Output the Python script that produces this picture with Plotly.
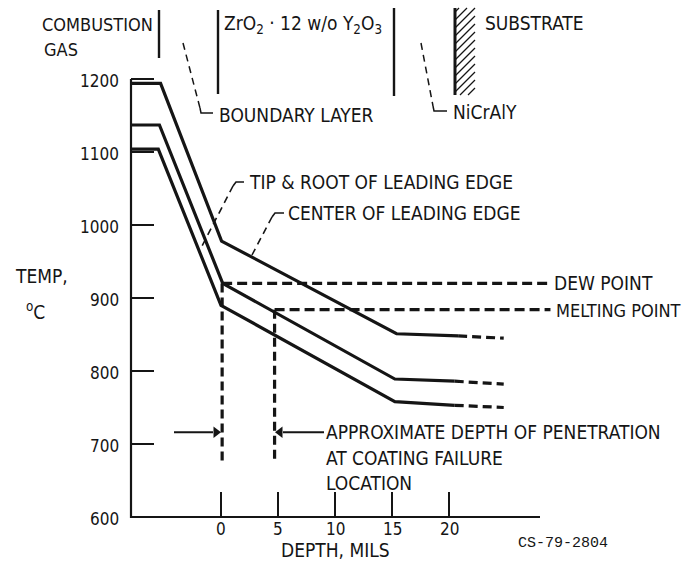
import plotly.graph_objects as go

# ---------------- data ----------------
# Temperature profiles through the coating (depth in mils, temperature in deg C)
center_depth = [-7.9, -5.3, 0.05, 15.4, 20.8]
center_temp = [1194, 1194, 978, 851, 848]
center_ext_depth = [20.8, 24.8]
center_ext_temp = [848, 845]

tip_hi_depth = [-7.9, -5.4, 0.15, 15.25, 20.5]
tip_hi_temp = [1137, 1137, 920, 789, 786]
tip_hi_ext_depth = [20.5, 24.8]
tip_hi_ext_temp = [786, 782]

tip_lo_depth = [-7.9, -5.5, 0.0, 15.25, 20.5]
tip_lo_temp = [1104, 1104, 890, 758, 753]
tip_lo_ext_depth = [20.5, 24.8]
tip_lo_ext_temp = [753, 750]

dew_point_temp = 920
dew_point_depth = [0.1, 28.9]
melting_point_temp = 884
melting_point_depth = [4.7, 28.9]
penetration_depths = [0.1, 4.7]
penetration_bottom = 674
arrow_temp = 716

ytick_vals = [600, 700, 800, 900, 1000, 1100, 1200]
ytick_text = ["600", "700", "800", "900", "1000", "1100", "1200"]
xtick_vals = [0, 5, 10, 15, 20]
xtick_text = ["0", "5", "10", "15", "20"]

# ---------------- scale helpers (pixel -> data) ----------------
W, H = 690, 563
X0, SX = 221.0, 11.4   # pixel of depth 0, pixels per mil
Y0, SY = 517.0, 0.73   # pixel of 600 C, pixels per deg C


def dx(px):
    return (px - X0) / SX


def ty(py):
    return 600 + (Y0 - py) / SY


FONT = "DejaVu Sans Condensed, DejaVu Sans, sans-serif"
INK = "#151515"

fig = go.Figure()


def line(xs, ys, width=3.0, dash=None, color=INK):
    fig.add_trace(go.Scatter(
        x=xs, y=ys, mode="lines", hoverinfo="skip", showlegend=False,
        line=dict(color=color, width=width, dash=dash)))


# axes
x_left = dx(131)
x_right = dx(540)
line([x_left, x_left, x_right], [1200, 600, 600], width=2.2)
for v in ytick_vals[1:]:
    line([x_left, dx(154)], [v, v], width=2.0)
for v in xtick_vals:
    line([v, v], [600, ty(492)], width=2.0)

# profiles
line(center_depth, center_temp, width=3.2)
line(center_ext_depth, center_ext_temp, width=3.2, dash="9px,5px")
line(tip_hi_depth, tip_hi_temp, width=3.2)
line(tip_hi_ext_depth, tip_hi_ext_temp, width=3.2, dash="9px,5px")
line(tip_lo_depth, tip_lo_temp, width=3.2)
line(tip_lo_ext_depth, tip_lo_ext_temp, width=3.2, dash="9px,5px")

# dew / melting point levels
line(dew_point_depth, [dew_point_temp] * 2, width=3.2, dash="10px,5px")
line(melting_point_depth, [melting_point_temp] * 2, width=3.2, dash="10px,5px")
line([penetration_depths[0]] * 2, [dew_point_temp, penetration_bottom], width=3.2, dash="9px,5px")
line([penetration_depths[1]] * 2, [melting_point_temp, penetration_bottom], width=3.2, dash="9px,5px")

# penetration arrows
line([dx(174), dx(213)], [arrow_temp] * 2, width=2.0)
line([dx(324), dx(283)], [arrow_temp] * 2, width=2.0)
fig.add_trace(go.Scatter(
    x=[dx(216), dx(280)], y=[arrow_temp] * 2, mode="markers", hoverinfo="skip",
    showlegend=False,
    marker=dict(symbol=["triangle-right", "triangle-left"], size=10, color=INK)))

# leader lines for the curve labels
line([dx(244), dx(236), dx(233)], [ty(182), ty(182), ty(186)], width=1.6)
line([dx(233), dx(202)], [ty(186), ty(246)], width=1.6, dash="7px,5px")
line([dx(284), dx(275), dx(272)], [ty(213), ty(213), ty(217)], width=1.6)
line([dx(272), dx(252)], [ty(217), ty(255)], width=1.6, dash="7px,5px")

# header: layer diagram
line([dx(159), dx(159)], [ty(10), ty(58)], width=2.4)
line([dx(218), dx(218)], [ty(10), ty(94)], width=2.4)
line([dx(394), dx(394)], [ty(8), ty(96)], width=2.4)
line([dx(455), dx(455)], [ty(8), ty(95)], width=3.0)
line([dx(183), dx(200)], [ty(43), ty(108)], width=1.5, dash="7px,5px")
line([dx(200), dx(201), dx(213)], [ty(108), ty(113), ty(113)], width=1.5)
line([dx(421), dx(433)], [ty(43), ty(106)], width=1.5, dash="7px,5px")
line([dx(433), dx(434), dx(447)], [ty(106), ty(111), ty(111)], width=1.5)

# substrate hatching
hx, hy = [], []
for k in range(-2, 12):
    yb = 20 + k * 8
    ya = yb - 20
    xs0, ys0, xs1, ys1 = 455.0, yb, 475.0, ya
    if ys1 < 8:
        xs1 = 455 + (yb - 8)
        ys1 = 8
    if ys0 > 95:
        xs0 = 455 + (yb - 95)
        ys0 = 95
    if xs1 <= xs0:
        continue
    hx += [dx(xs0), dx(xs1), None]
    hy += [ty(ys0), ty(ys1), None]
fig.add_trace(go.Scatter(x=hx, y=hy, mode="lines", hoverinfo="skip", showlegend=False,
                         line=dict(color=INK, width=1.3)))

ann = []


def label(px, py, text, anchor="left", size=19, family=FONT):
    ann.append(dict(x=dx(px), y=ty(py), xref="x", yref="y", text=text, showarrow=False,
                    xanchor=anchor, yanchor="middle",
                    font=dict(family=family, size=size, color=INK)))


# tick labels
for v, t in zip(ytick_vals, ytick_text):
    ann.append(dict(x=dx(121), y=v, xref="x", yref="y", text=t, showarrow=False,
                    xanchor="right", yanchor="middle", yshift=-2,
                    font=dict(family=FONT, size=17, color=INK)))
for v, t in zip(xtick_vals, xtick_text):
    ann.append(dict(x=v, y=ty(529), xref="x", yref="y", text=t, showarrow=False,
                    xanchor="center", yanchor="middle",
                    font=dict(family=FONT, size=17, color=INK)))

label(335, 550, "DEPTH, MILS", anchor="center")
label(13, 276, "TEMP,")
label(24, 311, "<sup>o</sup>C")
label(563, 543, "CS-79-2804", anchor="center", size=15,
      family="Liberation Mono, DejaVu Sans Mono, monospace")

label(247, 182, "TIP &amp; ROOT OF LEADING EDGE")
label(286, 213, "CENTER OF LEADING EDGE")
label(552, 283, "DEW POINT")
label(554, 310, "MELTING POINT", size=18)
label(324, 432, "APPROXIMATE DEPTH OF PENETRATION")
label(324, 458, "AT COATING FAILURE")
label(324, 483, "LOCATION")

label(40, 24, "COMBUSTION", size=18)
label(42, 49, "GAS", size=18)
label(222, 24, "ZrO<sub>2</sub> \u00b7 12 w/o Y<sub>2</sub>O<sub>3</sub>")
label(217, 115, "BOUNDARY LAYER")
label(451, 112, "NiCrAlY")
label(483, 23, "SUBSTRATE")

fig.update_layout(
    width=W, height=H,
    margin=dict(l=0, r=0, t=0, b=0),
    paper_bgcolor="white", plot_bgcolor="white",
    xaxis=dict(range=[dx(0), dx(W)], visible=False, fixedrange=True),
    yaxis=dict(range=[ty(H), ty(0)], visible=False, fixedrange=True),
    annotations=ann,
    showlegend=False,
)

fig.write_html("out.html")
